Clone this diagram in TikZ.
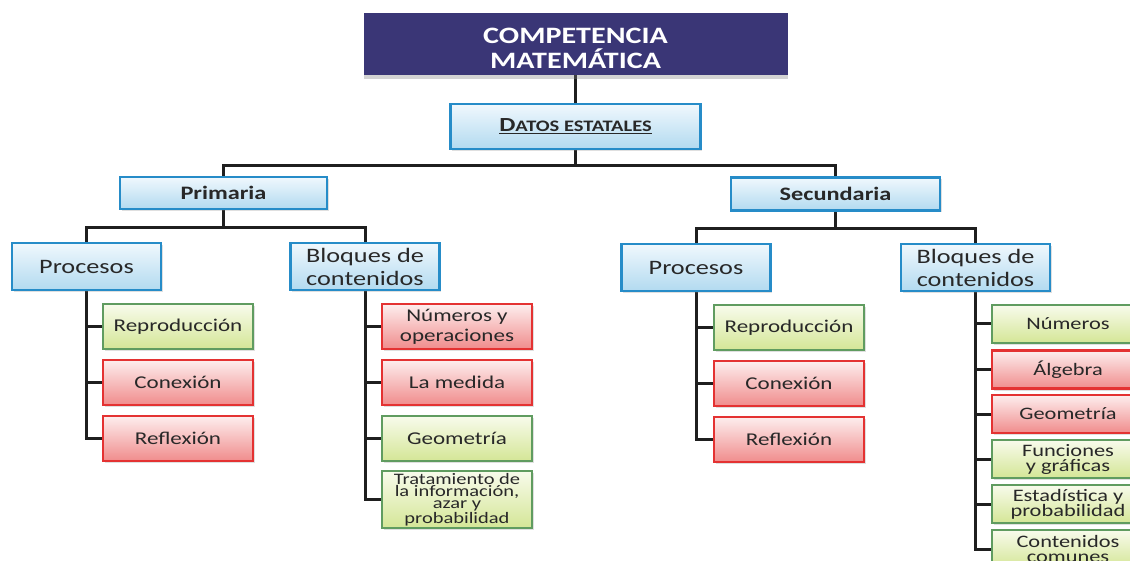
\documentclass[tikz,border=0pt]{standalone}
\usepackage{fontspec}
\setmainfont{Carlito}[FakeStretch=1.28]
\usetikzlibrary{shadows,backgrounds}
\definecolor{navy}{RGB}{58,54,118}
\definecolor{bblue}{RGB}{38,140,200}
\definecolor{blueTop}{RGB}{240,248,253}
\definecolor{blueBot}{RGB}{178,218,240}
\definecolor{bgreen}{RGB}{96,156,96}
\definecolor{greenTop}{RGB}{248,251,236}
\definecolor{greenBot}{RGB}{212,230,150}
\definecolor{bred}{RGB}{228,50,50}
\definecolor{redTop}{RGB}{253,238,238}
\definecolor{redBot}{RGB}{240,140,140}
\definecolor{txt}{RGB}{40,40,40}
\tikzset{
  conn/.style={line width=3pt, draw=black!88},
  shad/.style={drop shadow={opacity=0.25, shadow xshift=1.5pt, shadow yshift=-2pt}},
  navybox/.style={fill=navy, draw=none, text=white, align=center, inner sep=0pt,
     drop shadow={opacity=0.35, shadow xshift=0pt, shadow yshift=-4pt}},
  bluebox/.style={shad, draw=bblue, line width=2.5pt, top color=blueTop, bottom color=blueBot,
     align=center, inner sep=0pt, text=txt},
  greenbox/.style={shad, draw=bgreen, line width=2.5pt, top color=greenTop, bottom color=greenBot,
     align=center, inner sep=0pt, text=txt},
  redbox/.style={shad, draw=bred, line width=2.5pt, top color=redTop, bottom color=redBot,
     align=center, inner sep=0pt, text=txt},
  lvl2/.style={minimum width=149pt, minimum height=47pt, font=\fontsize{20.5}{23}\selectfont},
  leaf/.style={minimum width=150pt, minimum height=45pt, font=\fontsize{18}{20}\selectfont},
  leafs/.style={minimum width=152pt, minimum height=38pt, font=\fontsize{17.5}{15}\selectfont},
}
\begin{document}
\begin{tikzpicture}[x=1pt,y=-1pt]
\useasboundingbox (0,0) rectangle (1130,561);
\clip (0,0) rectangle (1130,561);

% top
\node[navybox, minimum width=424pt, minimum height=62pt] (comp) at (575.5,44) {};
\node[text=white, align=center, inner sep=0pt, font=\bfseries\fontsize{23.5}{24.5}\selectfont] (comptxt) at (575.5,48.5) {COMPETENCIA\\MATEMÁTICA};
\node[bluebox, minimum width=250pt, minimum height=45pt, font=\bfseries] (datos) at (575.5,126.5)
  {\underline{{\fontsize{20}{22}\selectfont D}{\fontsize{16}{22}\selectfont ATOS ESTATALES}}};

% level 1
\node[bluebox, minimum width=207pt, minimum height=32pt, font=\bfseries\fontsize{19}{21}\selectfont] (prim) at (223.5,193) {Primaria};
\node[bluebox, minimum width=209pt, minimum height=33pt, font=\bfseries\fontsize{19}{21}\selectfont] (sec) at (835.5,194) {Secundaria};

% level 2
\node[bluebox, lvl2] (procP) at (86.5,266.5) {Procesos};
\node[bluebox, lvl2] (bloqP) at (365,266.5) {Bloques de\\contenidos};
\node[bluebox, lvl2] (procS) at (696,267.5) {Procesos};
\node[bluebox, lvl2] (bloqS) at (975.5,267.5) {Bloques de\\contenidos};

% primaria procesos
\node[greenbox, leaf] (repP) at (178,326.5) {Reproducción};
\node[redbox, leaf] (conP) at (178,382.5) {Conexión};
\node[redbox, leaf] (refP) at (178,438.5) {Reflexión};

% primaria bloques
\node[redbox, leaf, font=\fontsize{18}{20}\selectfont] (numP) at (457,326.5) {Números y\\operaciones};
\node[redbox, leaf] (medP) at (457,382.5) {La medida};
\node[greenbox, leaf] (geoP) at (457,438.5) {Geometría};
\node[greenbox, leaf, minimum height=57pt, font=\fontsize{16}{12}\selectfont] (traP) at (457,499.5)
  {Tratamiento de\\la información,\\azar y\\probabilidad};

% secundaria procesos
\node[greenbox, leaf] (repS) at (789,327.5) {Reproducción};
\node[redbox, leaf] (conS) at (789,383.5) {Conexión};
\node[redbox, leaf] (refS) at (789,439.5) {Reflexión};

% secundaria bloques
\node[greenbox, leafs] (numS) at (1068,324) {Números};
\node[redbox, leafs] (algS) at (1068,369.5) {Álgebra};
\node[redbox, leafs] (geoS) at (1068,414) {Geometría};
\node[greenbox, leafs] (funS) at (1068,459) {Funciones\\y gráficas};
\node[greenbox, leafs] (estS) at (1068,504) {Estadística y\\probabilidad};
\node[greenbox, leafs] (comS) at (1068,549) {Contenidos\\comunes};

\begin{scope}[on background layer]
\draw[conn] (comp.south) -- (datos.north);
\draw[conn] (datos.south) -- ++(0,15) -| (prim.north);
\draw[conn] (datos.south) ++(0,15) -| (sec.north);
\draw[conn] (prim.south) -- ++(0,17) -| (procP.north);
\draw[conn] (prim.south) ++(0,17) -| (bloqP.north);
\draw[conn] (sec.south) -- ++(0,17) -| (procS.north);
\draw[conn] (sec.south) ++(0,17) -| (bloqS.north);
\foreach \c in {repP,conP,refP} \draw[conn] (procP.south) |- (\c.west);
\foreach \c in {numP,medP,geoP,traP} \draw[conn] (bloqP.south) |- (\c.west);
\foreach \c in {repS,conS,refS} \draw[conn] (procS.south) |- (\c.west);
\foreach \c in {numS,algS,geoS,funS,estS,comS} \draw[conn] (bloqS.south) |- (\c.west);
\end{scope}
\end{tikzpicture}
\end{document}
